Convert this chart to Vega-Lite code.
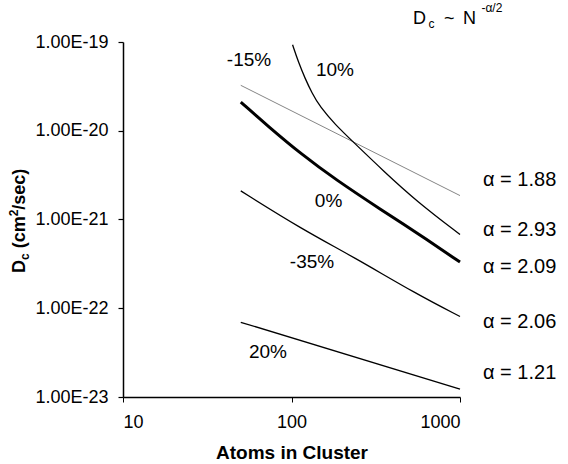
{
  "$schema": "https://vega.github.io/schema/vega-lite/v6.json",
  "autosize": "none",
  "width": 337,
  "height": 355,
  "padding": {"left": 123, "top": 42, "right": 108, "bottom": 67},
  "background": "white",
  "config": {
    "view": {"stroke": null},
    "font": "Liberation Sans",
    "axis": {"grid": false, "domainColor": "black", "tickColor": "black", "labelColor": "black", "titleColor": "black", "labelFont": "Liberation Sans", "titleFont": "Liberation Sans"}
  },
  "datasets": {
    "curves": [
      {"series": "-15%", "x": 50, "y": 3.25e-20},
      {"series": "-15%", "x": 1000, "y": 1.86e-21},
      {"series": "10%", "x": 101.5, "y": 9.3e-20},
      {"series": "10%", "x": 110, "y": 5.9e-20},
      {"series": "10%", "x": 120.3, "y": 3.9e-20},
      {"series": "10%", "x": 132.4, "y": 2.65e-20},
      {"series": "10%", "x": 147.6, "y": 1.86e-20},
      {"series": "10%", "x": 181.2, "y": 1.18e-20},
      {"series": "10%", "x": 231.7, "y": 7.52e-21},
      {"series": "10%", "x": 349.1, "y": 3.56e-21},
      {"series": "10%", "x": 555.6, "y": 1.59e-21},
      {"series": "10%", "x": 1000, "y": 6.78e-22},
      {"series": "0%", "x": 50, "y": 2.1e-20},
      {"series": "0%", "x": 72.8, "y": 1.12e-20},
      {"series": "0%", "x": 115, "y": 5.4e-21},
      {"series": "0%", "x": 181.2, "y": 2.85e-21},
      {"series": "0%", "x": 350.6, "y": 1.24e-21},
      {"series": "0%", "x": 553.3, "y": 7.1e-22},
      {"series": "0%", "x": 1000, "y": 3.31e-22},
      {"series": "-35%", "x": 50, "y": 2.1e-21},
      {"series": "-35%", "x": 115, "y": 7.8e-22},
      {"series": "-35%", "x": 232.7, "y": 3.8e-22},
      {"series": "-35%", "x": 553.3, "y": 1.44e-22},
      {"series": "-35%", "x": 1000, "y": 8.07e-23},
      {"series": "20%", "x": 50, "y": 6.95e-23},
      {"series": "20%", "x": 1000, "y": 1.23e-23}
    ],
    "labels": [
      {"label": "-15%", "x": 55.96, "y": 6.27e-20},
      {"label": "10%", "x": 181.2, "y": 4.84e-20},
      {"label": "0%", "x": 165.9, "y": 1.596e-21},
      {"label": "-35%", "x": 132.4, "y": 3.32e-22},
      {"label": "20%", "x": 72.5, "y": 3.21e-23}
    ],
    "alphas": [
      {"label": "α = 1.88", "x": 1369, "y": 2.79e-21},
      {"label": "α = 2.93", "x": 1369, "y": 7.62e-22},
      {"label": "α = 2.09", "x": 1369, "y": 2.92e-22},
      {"label": "α = 2.06", "x": 1369, "y": 7.0e-23},
      {"label": "α = 1.21", "x": 1369, "y": 1.86e-23}
    ],
    "titleMain": [
      {"label": "D", "x": 526.2, "y": 1.596e-19},
      {"label": "~", "x": 803.5, "y": 1.596e-19},
      {"label": "N", "x": 1041.8, "y": 1.596e-19}
    ],
    "titleSub": [
      {"label": "c", "x": 650, "y": 1.42e-19}
    ],
    "titleSup": [
      {"label": "-α/2", "x": 1340, "y": 2.2e-19}
    ],
    "yTitleMain": [
      {"label": "D", "x": 2.62, "y": 2.49e-22},
      {"label": "(cm", "x": 2.62, "y": 4.73e-22},
      {"label": "/sec)", "x": 2.62, "y": 1.29e-21}
    ],
    "yTitleSub": [
      {"label": "c", "x": 2.768, "y": 3.5e-22}
    ],
    "yTitleSup": [
      {"label": "2", "x": 2.382, "y": 1.087e-21}
    ]
  },
  "encoding": {
    "x": {
      "field": "x", "type": "quantitative",
      "scale": {"type": "log", "domain": [10, 1000]},
      "axis": {"values": [10, 100, 1000], "format": "d", "title": "Atoms in Cluster", "titleFontWeight": "bold", "titleFontSize": 19, "labelFontSize": 18, "tickSize": 5, "labelPadding": 11, "titlePadding": 12, "domainWidth": 1.5, "tickWidth": 1}
    },
    "y": {
      "field": "y", "type": "quantitative",
      "scale": {"type": "log", "domain": [1e-23, 1e-19]},
      "axis": {"values": [1e-23, 1e-22, 1e-21, 1e-20, 1e-19], "labelExpr": "'1.00E' + round(log(datum.value)/LN10)", "title": null, "labelFontSize": 18, "tickSize": 5, "labelPadding": 10, "domainWidth": 1.5, "tickWidth": 1.2}
    }
  },
  "layer": [
    {
      "data": {"name": "curves"},
      "transform": [{"filter": "datum.series === '-15%'"}],
      "mark": {"type": "line", "color": "#666666", "strokeWidth": 0.8},
      "encoding": {"detail": {"field": "series"}}
    },
    {
      "data": {"name": "curves"},
      "transform": [{"filter": "datum.series === '10%' || datum.series === '-35%' || datum.series === '20%'"}],
      "mark": {"type": "line", "color": "black", "strokeWidth": 1.3, "interpolate": "basis"},
      "encoding": {"detail": {"field": "series"}}
    },
    {
      "data": {"name": "curves"},
      "transform": [{"filter": "datum.series === '0%'"}],
      "mark": {"type": "line", "color": "black", "strokeWidth": 3, "interpolate": "basis"},
      "encoding": {"detail": {"field": "series"}}
    },
    {
      "data": {"name": "labels"},
      "mark": {"type": "text", "fontSize": 19, "align": "center", "baseline": "middle", "color": "black"},
      "encoding": {"text": {"field": "label"}}
    },
    {
      "data": {"name": "alphas"},
      "mark": {"type": "text", "fontSize": 20, "align": "left", "baseline": "middle", "color": "black"},
      "encoding": {"text": {"field": "label"}}
    },
    {
      "data": {"name": "titleMain"},
      "mark": {"type": "text", "fontSize": 18, "align": "left", "baseline": "alphabetic", "color": "black"},
      "encoding": {"text": {"field": "label"}}
    },
    {
      "data": {"name": "titleSub"},
      "mark": {"type": "text", "fontSize": 12, "align": "left", "baseline": "alphabetic", "color": "black"},
      "encoding": {"text": {"field": "label"}}
    },
    {
      "data": {"name": "titleSup"},
      "mark": {"type": "text", "fontSize": 12, "align": "left", "baseline": "alphabetic", "color": "black"},
      "encoding": {"text": {"field": "label"}}
    },
    {
      "data": {"name": "yTitleMain"},
      "mark": {"type": "text", "fontSize": 18, "fontWeight": "bold", "angle": 270, "align": "left", "baseline": "alphabetic", "color": "black"},
      "encoding": {"text": {"field": "label"}}
    },
    {
      "data": {"name": "yTitleSub"},
      "mark": {"type": "text", "fontSize": 12, "fontWeight": "bold", "angle": 270, "align": "left", "baseline": "alphabetic", "color": "black"},
      "encoding": {"text": {"field": "label"}}
    },
    {
      "data": {"name": "yTitleSup"},
      "mark": {"type": "text", "fontSize": 12, "fontWeight": "bold", "angle": 270, "align": "left", "baseline": "alphabetic", "color": "black"},
      "encoding": {"text": {"field": "label"}}
    }
  ]
}
